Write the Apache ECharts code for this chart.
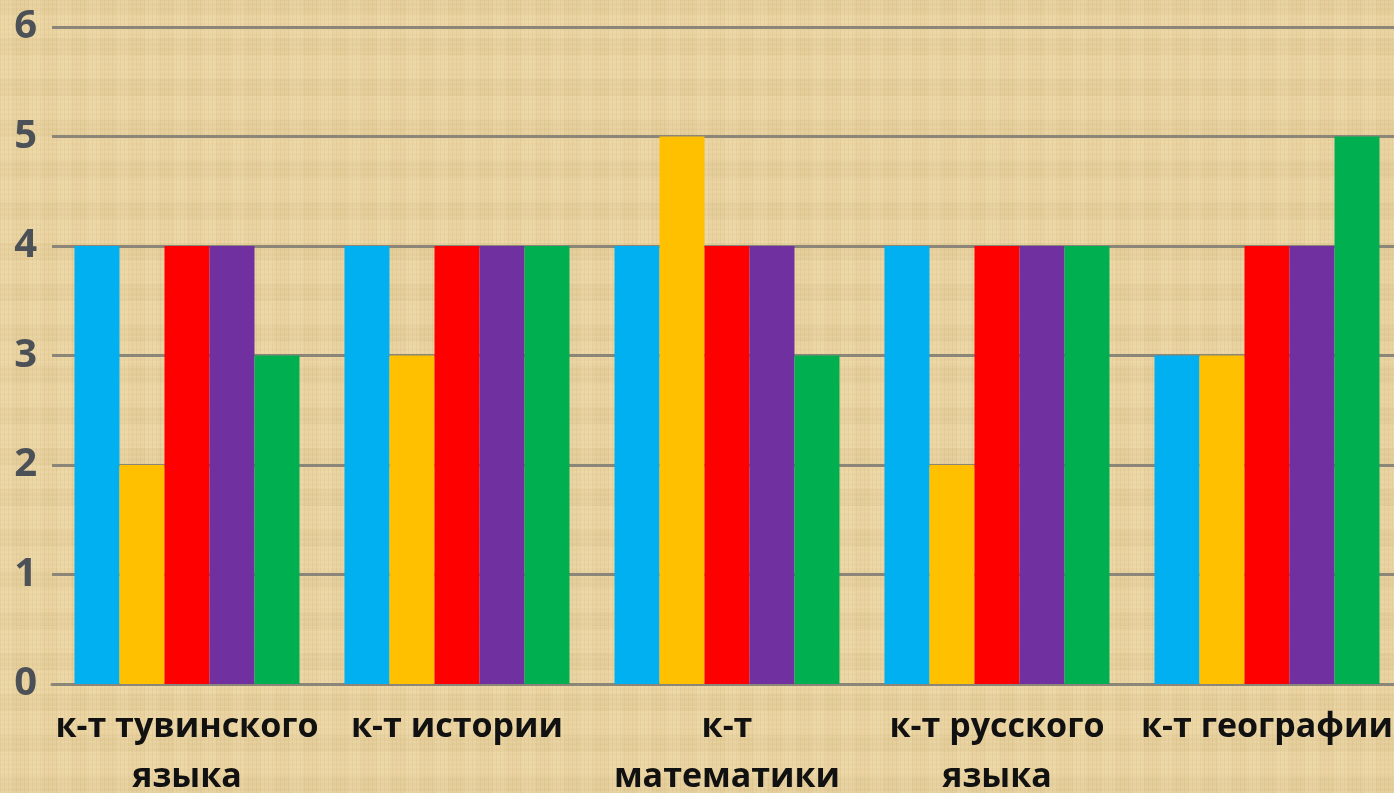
<!DOCTYPE html>
<html>
<head>
<meta charset="utf-8">
<script src="https://cdn.jsdelivr.net/npm/echarts@6/dist/echarts.min.js"></script>
<style>
html,body{margin:0;padding:0;width:1394px;height:793px;overflow:hidden;}
body{
  background-color:#E8D19E;
  background-image:
    repeating-linear-gradient(90deg, rgba(160,120,60,0.07) 0px, rgba(160,120,60,0.07) 1px, transparent 1px, transparent 4px),
    repeating-linear-gradient(0deg, rgba(255,245,210,0.10) 0px, rgba(255,245,210,0.10) 2px, transparent 2px, transparent 5px),
    repeating-linear-gradient(90deg, rgba(255,240,200,0.12) 0px, rgba(255,240,200,0.12) 13px, transparent 13px, transparent 29px),
    repeating-linear-gradient(0deg, rgba(150,110,50,0.06) 0px, rgba(150,110,50,0.06) 17px, transparent 17px, transparent 41px);
}
#chart{width:1394px;height:793px;}
</style>
</head>
<body>
<div id="chart"></div>
<script>
var categories = ['к-т тувинского\nязыка', 'к-т истории', 'к-т\nматематики', 'к-т русского\nязыка', 'к-т географии'];
var seriesBlue   = [4, 4, 4, 4, 3];
var seriesYellow = [2, 3, 5, 2, 3];
var seriesRed    = [4, 4, 4, 4, 4];
var seriesPurple = [4, 4, 4, 4, 4];
var seriesGreen  = [3, 4, 3, 4, 5];
var yTicks = [0, 1, 2, 3, 4, 5, 6];

var colors = ['#00B0F0', '#FFC000', '#FF0000', '#7030A0', '#00B050'];
var allSeries = [seriesBlue, seriesYellow, seriesRed, seriesPurple, seriesGreen];

var chart = echarts.init(document.getElementById('chart'), null, {renderer: 'canvas'});
chart.setOption({
  backgroundColor: 'transparent',
  animation: false,
  grid: {left: 52, top: 27, width: 1350, height: 657, containLabel: false, outerBoundsMode: 'none'},
  xAxis: {
    type: 'category',
    data: categories,
    axisLine: {show: true, lineStyle: {color: '#8C8678', width: 3}},
    axisTick: {show: false},
    axisLabel: {
      interval: 0,
      margin: 18,
      color: '#111111',
      fontFamily: 'Open Sans',
      fontWeight: 'bold',
      fontSize: 34,
      lineHeight: 50,
      hideOverlap: false
    }
  },
  yAxis: {
    type: 'value',
    min: yTicks[0],
    max: yTicks[yTicks.length - 1],
    interval: 1,
    axisLine: {show: false},
    axisTick: {show: false},
    splitLine: {lineStyle: {color: '#8C8678', width: 3}},
    axisLabel: {
      margin: 15,
      color: '#4C5057',
      fontFamily: 'Open Sans',
      fontWeight: 'bold',
      fontSize: 40
    }
  },
  series: allSeries.map(function (d, i) {
    return {
      type: 'bar',
      data: d,
      barGap: '0%',
      barCategoryGap: '16.667%',
      itemStyle: {color: colors[i]}
    };
  })
});
</script>
</body>
</html>
